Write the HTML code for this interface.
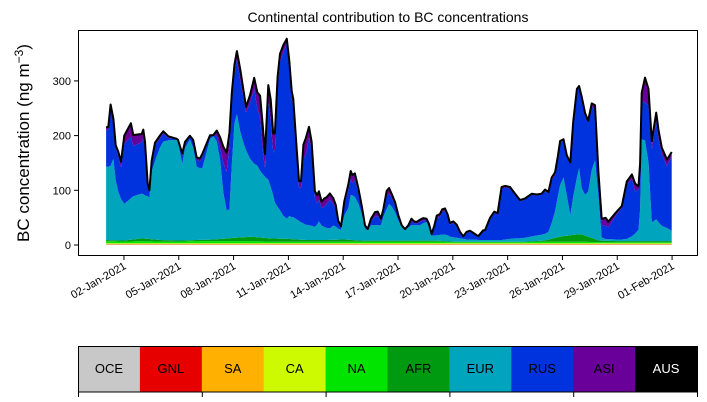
<!DOCTYPE html>
<html><head><meta charset="utf-8"><style>
body{margin:0;background:#fff;}
svg{display:block;font-family:"Liberation Sans","DejaVu Sans",sans-serif;}
</style></head><body>
<svg id="chart" width="707" height="402" viewBox="0 0 707 402" xmlns="http://www.w3.org/2000/svg">
<text x="388" y="22" font-size="14" text-anchor="middle">Continental contribution to BC concentrations</text>
<text transform="translate(29,143) rotate(-90)" font-size="17" text-anchor="middle">BC concentration (ng m<tspan dy="-6" font-size="12">−3</tspan><tspan dy="6">)</tspan></text>
<g id="areas"></g>
<g id="axes"></g>
<g id="legend"></g>
</svg>
<script>
// ---- data (t = days since 01-Jan-2021 00:00, values ng m-3) ----
const times=[0.02,0.14,0.27,0.42,0.55,0.69,0.84,1.02,1.38,1.51,1.97,2.06,2.15,2.30,2.39,2.52,2.70,2.97,3.15,3.43,3.89,3.96,4.19,4.34,4.61,4.79,4.98,5.16,5.29,5.71,5.89,6.08,6.26,6.44,6.62,6.77,6.90,7.05,7.18,7.36,7.53,7.68,7.90,8.13,8.30,8.45,8.60,8.72,8.90,9.03,9.17,9.26,9.41,9.54,9.72,9.91,10.05,10.18,10.27,10.45,10.58,10.69,10.82,10.95,11.13,11.27,11.45,11.58,11.67,11.82,11.96,12.09,12.27,12.46,12.59,12.73,12.88,13.06,13.28,13.41,13.50,13.64,13.83,14.01,14.19,14.34,14.52,14.74,14.89,15.07,15.20,15.38,15.51,15.66,15.84,16.02,16.20,16.38,16.56,16.74,16.88,17.01,17.20,17.38,17.56,17.69,17.84,17.99,18.12,18.30,18.42,18.57,18.72,18.84,19.03,19.21,19.39,19.57,19.76,19.94,20.17,20.39,20.67,20.76,21.03,21.27,21.45,21.67,21.86,22.13,22.40,22.68,22.95,23.32,23.59,23.86,24.05,24.23,24.41,24.60,24.75,24.87,25.06,25.24,25.43,25.59,25.79,25.91,26.06,26.24,26.41,26.60,26.78,26.97,27.15,27.37,27.51,27.70,27.97,28.25,28.52,28.80,28.98,29.16,29.25,29.34,29.52,29.71,29.89,30.13,30.26,30.44,30.72,30.98];
const eur=[134,134,136,149,110,89,76,67,76,79,82,81,79,78,76,124,144,169,180,183,184,180,140,169,184,169,134,131,131,184,189,179,144,84,52,52,134,210,226,194,174,159,143,134,131,122,116,112,107,94,79,66,58,52,42,37,42,40,40,37,34,32,30,28,27,26,24,29,34,26,24,22,21,26,24,20,18,44,58,82,82,79,67,49,22,19,28,28,28,28,44,58,67,62,52,36,26,19,24,28,28,28,28,32,34,24,9,9,10,11,12,12,11,9,8,7,6,5,4,4,4,3,3,3,3,3,3,3,4,5,6,6,7,9,10,11,12,14,29,49,76,94,107,74,37,70,104,121,84,75,82,124,144,82,6,3,3,3,3,3,4,9,14,21,58,186,184,144,34,40,34,28,24,19,15,15];
const rus=[67,68,104,65,59,65,58,110,112,92,94,103,88,18,10,17,28,17,15,4,2,4,14,8,5,10,12,13,21,4,2,10,22,54,70,115,116,92,100,94,82,69,101,137,104,97,43,16,143,120,78,96,218,271,300,321,269,216,201,116,61,63,119,128,160,139,53,38,40,32,37,44,52,40,32,9,3,21,33,29,22,31,20,10,4,1,8,16,17,8,9,23,19,15,12,6,1,1,2,7,4,3,6,5,3,4,2,16,32,33,41,43,34,22,26,21,10,4,12,14,9,6,16,16,37,49,46,94,95,92,80,68,70,76,73,73,78,70,78,66,68,77,68,70,93,134,159,147,164,146,127,117,91,32,22,25,22,32,46,58,100,105,76,74,79,70,70,104,134,180,153,131,113,136];
const asi=[5,5,8,8,5,8,10,15,25,20,15,15,10,5,3,3,5,5,4,3,0,0,5,3,2,4,5,5,5,3,0,10,20,30,35,25,15,15,15,20,15,10,15,20,30,40,45,25,30,40,35,30,20,15,12,8,15,15,15,15,12,12,25,30,20,15,12,15,15,12,15,12,12,10,8,5,3,5,10,15,15,12,8,5,2,1,4,8,8,4,5,10,10,8,6,4,1,1,2,5,3,3,4,4,3,3,1,3,4,5,5,5,4,3,3,3,2,1,2,2,2,1,2,2,3,3,3,3,3,3,2,2,2,2,2,2,3,3,5,5,5,4,2,3,3,3,3,3,3,3,3,5,10,12,12,14,10,8,5,3,5,8,15,5,5,15,45,30,15,15,15,12,12,8];
// small contributors, daily samples t = 0..31
const dailyT=[0,1,2,3,4,5,6,7,8,9,10,11,12,13,14,15,16,17,18,19,20,21,22,23,24,25,26,27,28,29,30,31];
const oce=[0.8,0.8,0.8,0.8,0.8,0.8,0.8,0.8,0.8,0.8,0.8,0.8,0.8,0.8,0.8,0.8,0.8,0.8,0.8,0.8,0.8,0.8,0.8,0.8,0.8,0.8,0.8,0.8,0.8,0.8,0.8,0.8];
const gnl=[0.3,0.3,0.3,0.3,0.3,0.3,0.3,0.3,0.3,0.3,0.3,0.3,0.3,0.3,0.3,0.3,0.3,0.3,0.3,0.3,0.3,0.3,0.3,0.3,0.3,0.3,0.3,0.3,0.3,0.3,0.3,0.3];
const sa=[1,1,1,1,1,1,1,1,1,1,1,1,1,1,1,1,1,1,1,1,1,1,1,1,1,1,1,1,1,1,1,1];
const ca=[1,1,1,1,1,1,1,1,1,1,1,1,1,1,1,1,1,1,1,1,1,1,1,1,1,1,1,1,1,1,1,1];
const na=[4,3,4,3,3,4,4,4,4,3,3,3,3,3,3,3,3,3,3,2,2,2,2,2,3,3,3,2,2,2,2,2];
const afr=[2,2,5,3,2,2,3,6,8,6,5,3,3,4,2,2,2,2,2,1,1,1,1,1,2,10,14,3,2,2,2,2];
const yTicks=[0,100,200,300];
const xTickDays=[1,4,7,10,13,16,19,22,25,28,31];
const xTickLabels=["02-Jan-2021","05-Jan-2021","08-Jan-2021","11-Jan-2021","14-Jan-2021","17-Jan-2021","20-Jan-2021","23-Jan-2021","26-Jan-2021","29-Jan-2021","01-Feb-2021"];
const legendNames=["OCE","GNL","SA","CA","NA","AFR","EUR","RUS","ASI","AUS"];
const legendColors=["#c8c8c8","#e60000","#ffb000","#cdfa00","#00e400","#009a10","#00a5bd","#0033dd","#690099","#000000"];

const NS="http://www.w3.org/2000/svg";
const X=t=>105.7+18.27*t;
const Y=v=>245-0.547*v;
function interp(tt,vv,t){
  if(t<=tt[0])return vv[0];
  for(let i=1;i<tt.length;i++){if(t<=tt[i]){const f=(t-tt[i-1])/(tt[i]-tt[i-1]);return vv[i-1]+f*(vv[i]-vv[i-1]);}}
  return vv[vv.length-1];
}
const layers=[
  {name:"oce",vals:times.map(t=>interp(dailyT,oce,t)),c:legendColors[0]},
  {name:"gnl",vals:times.map(t=>interp(dailyT,gnl,t)),c:legendColors[1]},
  {name:"sa",vals:times.map(t=>interp(dailyT,sa,t)),c:legendColors[2]},
  {name:"ca",vals:times.map(t=>interp(dailyT,ca,t)),c:legendColors[3]},
  {name:"na",vals:times.map(t=>interp(dailyT,na,t)),c:legendColors[4]},
  {name:"afr",vals:times.map(t=>interp(dailyT,afr,t)),c:legendColors[5]},
  {name:"eur",vals:eur,c:legendColors[6]},
  {name:"rus",vals:rus,c:legendColors[7]},
  {name:"asi",vals:asi,c:legendColors[8]}
];
const areas=document.getElementById('areas');
let base=times.map(()=>0);
layers.forEach(L=>{
  const top=base.map((b,i)=>b+L.vals[i]);
  let d="M"+times.map((t,i)=>X(t).toFixed(1)+","+Y(top[i]).toFixed(1)).join("L");
  for(let i=times.length-1;i>=0;i--)d+="L"+X(times[i]).toFixed(1)+","+Y(base[i]).toFixed(1);
  d+="Z";
  const p=document.createElementNS(NS,'path');
  p.setAttribute('d',d);p.setAttribute('fill',L.c);
  
  
  areas.appendChild(p);
  base=top;
});
const line=document.createElementNS(NS,'path');
line.setAttribute('d',"M"+times.map((t,i)=>X(t).toFixed(1)+","+Y(base[i]).toFixed(1)).join("L"));
line.setAttribute('fill','none');line.setAttribute('stroke','#000');line.setAttribute('stroke-width','2');line.setAttribute('stroke-linejoin','round');


areas.appendChild(line);

const axes=document.getElementById('axes');
const frame=document.createElementNS(NS,'rect');
frame.setAttribute('x',78.5);frame.setAttribute('y',30.5);frame.setAttribute('width',619);frame.setAttribute('height',225);
frame.setAttribute('fill','none');frame.setAttribute('stroke','#000');frame.setAttribute('stroke-width','1');


axes.appendChild(frame);
yTicks.forEach(v=>{
  const y=Y(v);
  const tk=document.createElementNS(NS,'line');
  tk.setAttribute('x1',74);tk.setAttribute('x2',78.5);tk.setAttribute('y1',y);tk.setAttribute('y2',y);tk.setAttribute('stroke','#000');
  
  
  axes.appendChild(tk);
  const tx=document.createElementNS(NS,'text');
  tx.setAttribute('x',71);tx.setAttribute('y',y+4);tx.setAttribute('font-size','11');tx.setAttribute('text-anchor','end');
  tx.textContent=v;
  
  
  axes.appendChild(tx);
});
xTickDays.forEach((d,i)=>{
  const x=X(d);
  const tk=document.createElementNS(NS,'line');
  tk.setAttribute('x1',x);tk.setAttribute('x2',x);tk.setAttribute('y1',255.5);tk.setAttribute('y2',260);tk.setAttribute('stroke','#000');
  
  
  axes.appendChild(tk);
  const tx=document.createElementNS(NS,'text');
  tx.setAttribute('transform','translate('+(x+3)+',268) rotate(-30)');
  tx.setAttribute('font-size','11');tx.setAttribute('text-anchor','end');
  tx.textContent=xTickLabels[i];
  
  
  axes.appendChild(tx);
});

const leg=document.getElementById('legend');
const cw=61.9;
legendNames.forEach((n,i)=>{
  const r=document.createElementNS(NS,'rect');
  r.setAttribute('x',78+i*cw);r.setAttribute('y',346);r.setAttribute('width',cw+0.5);r.setAttribute('height',46);r.setAttribute('fill',legendColors[i]);
  
  
  leg.appendChild(r);
  const t=document.createElementNS(NS,'text');
  t.setAttribute('x',78+i*cw+cw/2);t.setAttribute('y',373);t.setAttribute('font-size','13');t.setAttribute('text-anchor','middle');
  t.setAttribute('fill',n==="AUS"?"#fff":"#000");
  t.textContent=n;
  
  
  leg.appendChild(t);
});
const lb=document.createElementNS(NS,'rect');
lb.setAttribute('x',78.5);lb.setAttribute('y',346.5);lb.setAttribute('width',619);lb.setAttribute('height',45.5);lb.setAttribute('fill','none');lb.setAttribute('stroke','#000');


leg.appendChild(lb);
for(let k=0;k<=5;k++){
  const tk=document.createElementNS(NS,'line');
  const x=78.5+k*2*cw;
  tk.setAttribute('x1',x);tk.setAttribute('x2',x);tk.setAttribute('y1',392);tk.setAttribute('y2',397);tk.setAttribute('stroke','#000');
  
  
  leg.appendChild(tk);
}
</script>
</body></html>
